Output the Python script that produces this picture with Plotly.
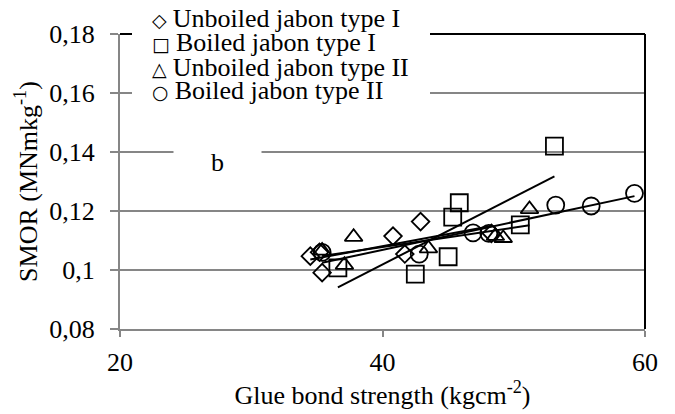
import numpy as np
import plotly.graph_objects as go

# ---- data ----
unboiled_I_x = [34.5, 35.4, 35.2, 41.7, 40.8, 42.9, 48.3]
unboiled_I_y = [0.1047, 0.0991, 0.1060, 0.1054, 0.1115, 0.1164, 0.1124]

boiled_I_x = [36.6, 42.5, 45.0, 45.35, 45.85, 50.5, 53.1]
boiled_I_y = [0.1007, 0.0986, 0.1045, 0.1179, 0.1228, 0.1153, 0.1420]

unboiled_II_x = [35.4, 37.1, 37.8, 43.5, 48.6, 49.2, 51.2]
unboiled_II_y = [0.1065, 0.1017, 0.1112, 0.1073, 0.1115, 0.1108, 0.1206]

boiled_II_x = [35.4, 42.8, 46.9, 48.1, 53.2, 55.9, 59.2]
boiled_II_y = [0.1060, 0.1054, 0.1126, 0.1124, 0.1220, 0.1217, 0.1260]

series_names = ["Unboiled jabon type I", "Boiled jabon type I",
                "Unboiled jabon type II", "Boiled jabon type II"]
legend_glyphs = ["\u25C7", "\u25A1", "\u25B3", "\u25CB"]

y_tickvals = [0.08, 0.10, 0.12, 0.14, 0.16, 0.18]
y_ticktext = ["0,08", "0,1", "0,12", "0,14", "0,16", "0,18"]
x_tickvals = [20, 40, 60]

FONT = "Liberation Serif, Times New Roman, serif"
FS = 26

series = [
    (unboiled_I_x, unboiled_I_y, "diamond-open", 13.5),
    (boiled_I_x, boiled_I_y, "square-open", 17),
    (unboiled_II_x, unboiled_II_y, "triangle-up-open", 15.5),
    (boiled_II_x, boiled_II_y, "circle-open", 17),
]

fig = go.Figure()

for (xs, ys, sym, sz), name in zip(series, series_names):
    fig.add_trace(go.Scatter(
        x=xs, y=ys, mode="markers", name=name, showlegend=False,
        marker=dict(symbol=sym, size=sz, color="black",
                    line=dict(color="black", width=1.8)),
        cliponaxis=False,
    ))

# linear trendlines (least squares over each series' x-range)
for (xs, ys, sym, sz), name in zip(series, series_names):
    xa = np.array(xs)
    ya = np.array(ys)
    m, b = np.polyfit(xa, ya, 1)
    xl = np.array([xa.min(), xa.max()])
    fig.add_trace(go.Scatter(
        x=xl, y=m * xl + b, mode="lines", showlegend=False,
        line=dict(color="black", width=2), hoverinfo="skip",
        name=name + " trend",
    ))

# page body has an 8px margin: figure is sized/placed to compensate
OFF = 8
L, R, T, B = 120 - OFF, 30, 34 - OFF, 85
W, H = 675 - OFF, 414 - OFF
pw, ph = W - L - R, H - T - B


def px_x(p):  # window pixel -> paper x
    return (p - OFF - L) / pw


def px_y(p):  # window pixel -> paper y
    return (H - B - (p - OFF)) / ph


shapes = [
    dict(type="line", xref="paper", yref="paper", x0=0, x1=1, y0=1, y1=1,
         line=dict(color="black", width=2), layer="above"),
    dict(type="line", xref="paper", yref="paper", x0=1, x1=1, y0=0, y1=1,
         line=dict(color="black", width=2), layer="above"),
    # white legend text-box
    dict(type="rect", xref="paper", yref="paper",
         x0=px_x(132), x1=px_x(430), y0=px_y(106), y1=px_y(OFF) + 0.1,
         fillcolor="white", line=dict(width=0), layer="above"),
]

annotations = []
legend_centers = [19, 43, 67, 91]
for g, name, cy in zip(legend_glyphs, series_names, legend_centers):
    annotations.append(dict(
        xref="paper", yref="paper", x=px_x(150), y=px_y(cy),
        xanchor="left", yanchor="middle", showarrow=False,
        text='<span style="font-family:DejaVu Sans;font-size:19px">' + g + ' </span>' + name,
        font=dict(family=FONT, size=FS, color="black"),
    ))

annotations.append(dict(
    xref="paper", yref="paper", x=px_x(217.5), y=px_y(162),
    xanchor="center", yanchor="middle",
    text="b", showarrow=False, bgcolor="white", width=85, height=28,
    font=dict(family=FONT, size=FS, color="black"),
))

fig.update_layout(
    width=W, height=H,
    margin=dict(l=L, r=R, t=T, b=B),
    paper_bgcolor="white", plot_bgcolor="white",
    font=dict(family=FONT, size=FS, color="black"),
    showlegend=False,
    shapes=shapes,
    annotations=annotations,
    xaxis=dict(
        range=[20, 60], tickvals=x_tickvals, ticktext=[str(v) for v in x_tickvals],
        showgrid=False, zeroline=False, automargin=False,
        showline=True, linecolor="#868686", linewidth=2,
        ticks="outside", ticklen=6, tickwidth=1.5, tickcolor="#868686",
        ticklabelstandoff=3,
        tickfont=dict(family=FONT, size=FS, color="black"),
        title=dict(text="Glue bond strength (kgcm<sup>-2</sup>)",
                   font=dict(family=FONT, size=FS, color="black"), standoff=5),
    ),
    yaxis=dict(
        range=[0.08, 0.18], tickvals=y_tickvals, ticktext=y_ticktext,
        showgrid=True, gridcolor="#868686", gridwidth=2,
        zeroline=False, automargin=False,
        showline=True, linecolor="#868686", linewidth=2,
        ticks="outside", ticklen=8, tickwidth=1.5, tickcolor="#868686",
        ticklabelstandoff=10,
        tickfont=dict(family=FONT, size=FS, color="black"),
        title=dict(text="SMOR (MNmkg<sup>-1</sup>)",
                   font=dict(family=FONT, size=FS, color="black"), standoff=4),
    ),
)

fig.write_html("out.html")
